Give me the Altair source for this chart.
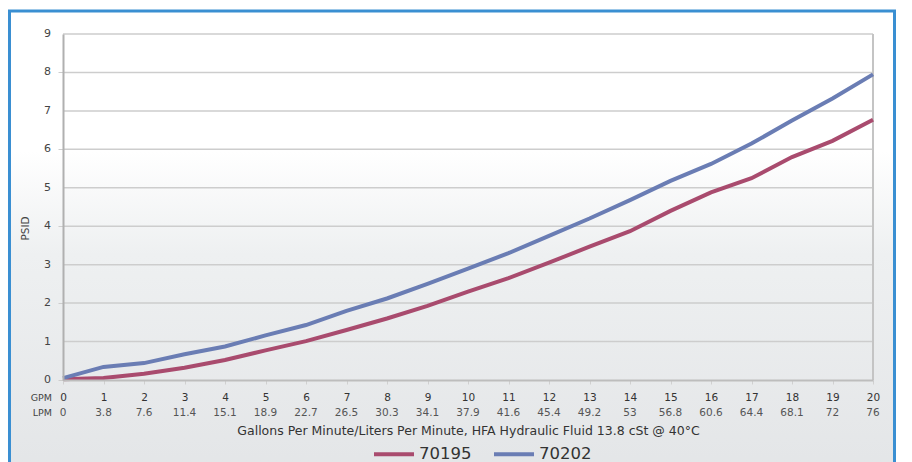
import altair as alt
import pandas as pd

gpm = list(range(21))
lpm = ["0", "3.8", "7.6", "11.4", "15.1", "18.9", "22.7", "26.5", "30.3", "34.1",
       "37.9", "41.6", "45.4", "49.2", "53", "56.8", "60.6", "64.4", "68.1", "72", "76"]
psid_70195 = [0.02, 0.05, 0.16, 0.32, 0.52, 0.77, 1.01, 1.3, 1.6, 1.93, 2.3,
              2.65, 3.05, 3.47, 3.87, 4.4, 4.88, 5.25, 5.8, 6.22, 6.77]
psid_70202 = [0.05, 0.34, 0.44, 0.67, 0.87, 1.16, 1.43, 1.8, 2.12, 2.5, 2.9,
              3.3, 3.75, 4.2, 4.68, 5.18, 5.62, 6.15, 6.75, 7.32, 7.95]
series = ["70195", "70202"]
colors = ["#a94b6e", "#6a7db4"]
y_ticks = list(range(10))

df = pd.DataFrame({
    "gpm": gpm * 2,
    "psid": psid_70195 + psid_70202,
    "series": [series[0]] * len(gpm) + [series[1]] * len(gpm),
})
lpm_df = pd.DataFrame({"gpm": gpm, "lpm": lpm})
grid_df = pd.DataFrame({"psid": y_ticks[1:]})
ylab_df = pd.DataFrame({"psid": y_ticks})
edge_df = pd.DataFrame({"gpm": [gpm[-1]]})
frame_df = pd.DataFrame({"k": [0]})

x_scale = alt.Scale(domain=[0, 20], nice=False, zero=False)
y_scale = alt.Scale(domain=[0, 9], nice=False)
FONT = "DejaVu Sans"

x_axis = alt.Axis(
    values=gpm, tickCount=21,
    title="Gallons Per Minute/Liters Per Minute, HFA Hydraulic Fluid 13.8 cSt @ 40\u00b0C",
    titleY=50, titleBaseline="middle", titleFontSize=12.5, titleFontWeight="normal",
    titleColor="#333333", titleFont=FONT,
    labelFontSize=10.5, labelColor="#333333", labelFont=FONT, labelPadding=8,
    tickSize=4, tickColor="#d0d0d0", domainColor="#bdbdbd", domainWidth=2,
    grid=False, zindex=1, labelFlush=False, labelOverlap=False,
)
y_axis = alt.Axis(
    values=y_ticks, tickCount=9, labels=False,
    title="PSID",
    titleX=-38, titleY=194, titleBaseline="middle", titleFontSize=10.5,
    titleFontWeight="normal", titleColor="#444444", titleFont=FONT,
    tickSize=5, tickColor="#cdcdcd", domainColor="#b0b0b0", domainWidth=2,
    grid=False, zindex=1,
)

background = alt.Chart(frame_df).mark_rect(
    fill=alt.Gradient(
        gradient="linear",
        stops=[
            alt.GradientStop(color="#ffffff", offset=0),
            alt.GradientStop(color="#ffffff", offset=0.30),
            alt.GradientStop(color="#eef0f1", offset=0.52),
            alt.GradientStop(color="#e3e5e7", offset=1),
        ],
        x1=0, x2=0, y1=0, y2=1,
    ),
    stroke="#3a8fd2",
    strokeWidth=3,
).encode(x=alt.value(-53.5), x2=alt.value(831.5), y=alt.value(-23), y2=alt.value(445))

grid = alt.Chart(grid_df).mark_rule(color="#cdcdcd", strokeWidth=1.5).encode(
    y=alt.Y("psid:Q", scale=y_scale, axis=y_axis)
)
edge = alt.Chart(edge_df).mark_rule(color="#c4c4c4", strokeWidth=2).encode(
    x=alt.X("gpm:Q", scale=x_scale, axis=x_axis)
)
ylabels = alt.Chart(ylab_df).mark_text(
    fontSize=11, color="#444444", font=FONT, align="right", baseline="middle"
).encode(
    y=alt.Y("psid:Q", scale=y_scale, axis=y_axis),
    x=alt.value(-12),
    text=alt.Text("psid:Q"),
)

lines = alt.Chart(df).mark_line(strokeWidth=4).encode(
    x=alt.X("gpm:Q", scale=x_scale, axis=x_axis),
    y=alt.Y("psid:Q", scale=y_scale, axis=y_axis),
    color=alt.Color(
        "series:N",
        scale=alt.Scale(domain=series, range=colors),
        legend=alt.Legend(
            orient="none", legendX=309, legendY=398, direction="horizontal",
            title=None, symbolType="stroke", symbolSize=1600, symbolStrokeWidth=4,
            labelFontSize=16.5, labelFont=FONT, labelColor="#333333",
            labelOffset=3, columnPadding=14, padding=0,
        ),
    ),
)

lpm_text = alt.Chart(lpm_df).mark_text(
    fontSize=10.5, color="#555555", font=FONT, baseline="middle"
).encode(x=alt.X("gpm:Q", scale=x_scale, axis=x_axis), y=alt.value(379), text="lpm:N")

prefix_df = pd.DataFrame({"label": ["GPM", "LPM"], "row": [0, 1]})
gpm_prefix = alt.Chart(prefix_df).transform_filter("datum.row == 0").mark_text(
    fontSize=9.5, color="#444444", font=FONT, align="right", baseline="middle"
).encode(x=alt.value(-11), y=alt.value(364), text="label:N")
lpm_prefix = alt.Chart(prefix_df).transform_filter("datum.row == 1").mark_text(
    fontSize=9.5, color="#444444", font=FONT, align="right", baseline="middle"
).encode(x=alt.value(-11), y=alt.value(379), text="label:N")

chart = alt.layer(background, grid, edge, lines, ylabels, lpm_text, gpm_prefix, lpm_prefix).properties(
    width=810, height=346,
    autosize=alt.AutoSizeParams(type="none"),
    padding={"left": 55, "top": 26, "right": 31, "bottom": 82},
    background="white",
).configure_view(stroke=None)

chart.save("out.html", embed_options={"renderer": "svg", "actions": False})
